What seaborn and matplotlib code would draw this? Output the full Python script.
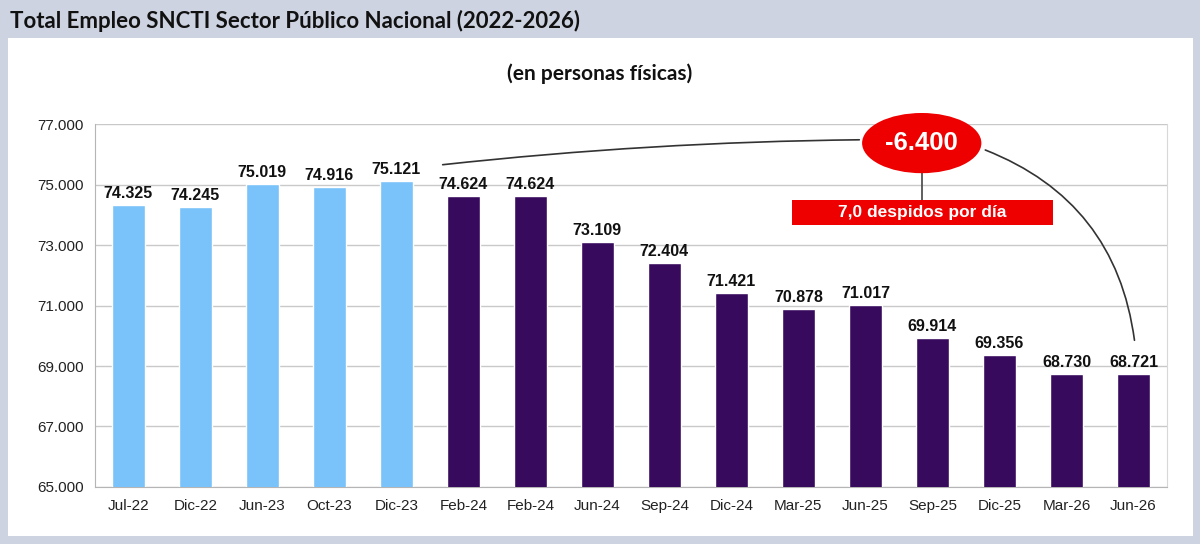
import matplotlib
matplotlib.use("Agg")
import matplotlib.pyplot as plt
from matplotlib.patches import Ellipse, Rectangle, FancyArrowPatch
from matplotlib.ticker import FuncFormatter, FixedLocator
import seaborn as sns
import pandas as pd
import numpy as np

# Datos
periodos = ["Jul-22", "Dic-22", "Jun-23", "Oct-23", "Dic-23", "Feb-24", "Feb-24", "Jun-24",
            "Sep-24", "Dic-24", "Mar-25", "Jun-25", "Sep-25", "Dic-25", "Mar-26", "Jun-26"]
empleo = [74325, 74245, 75019, 74916, 75121, 74624, 74624, 73109,
          72404, 71421, 70878, 71017, 69914, 69356, 68730, 68721]
gestion = ["anterior"] * 5 + ["actual"] * 11
caida_total = "-6.400"
despidos_dia = "7,0 despidos por día"

colores = {"anterior": "#79c2fa", "actual": "#370a5d"}

df = pd.DataFrame({"pos": np.arange(len(empleo)), "empleo": empleo, "gestion": gestion})

sns.set_style("white")
plt.rcParams["font.family"] = ["Liberation Sans", "DejaVu Sans"]

fig = plt.figure(figsize=(12, 5.44), dpi=100)
fig.patch.set_facecolor("#cdd3e1")
fig.patches.append(Rectangle((0.0067, 0.0147), 0.9875, 0.9154, transform=fig.transFigure,
                             facecolor="white", edgecolor="none", zorder=-5))

ax = fig.add_axes([0.079, 0.1048, 0.8935, 0.6672])
ax.set_zorder(2)
ax.patch.set_alpha(0)
sns.barplot(data=df, x="pos", y="empleo", hue="gestion", palette=colores, dodge=False,
            width=0.5, saturation=1, legend=False, ax=ax, zorder=3)

fmt_miles = lambda v, *a: f"{v:,.0f}".replace(",", ".")
for c in ax.containers:
    ax.bar_label(c, fmt=fmt_miles, padding=3, fontsize=11.5, fontweight="bold", color="#111111")

ax.set_ylim(65000, 77000)
ax.set_xlim(-0.5, len(empleo) - 0.5)
ax.set_yticks(np.arange(65000, 77001, 2000))
ax.yaxis.set_major_formatter(FuncFormatter(fmt_miles))
ax.set_xticks(df["pos"])
ax.set_xticklabels(periodos)
ax.xaxis.set_minor_locator(FixedLocator(np.arange(-0.5, len(empleo), 1)))
ax.tick_params(axis="x", which="major", length=0, pad=9, labelsize=11, colors="#222222")
ax.tick_params(axis="x", which="minor", length=6, width=1, color="#b5b5b5", direction="out")
ax.tick_params(axis="y", length=6, width=1, color="#b5b5b5", labelsize=11, colors="#222222", pad=2)
ax.set_xlabel("")
ax.set_ylabel("")
ax.grid(axis="y", color="#c9c9c9", lw=1, zorder=0)
ax.set_axisbelow(True)
for s in ["left", "bottom"]:
    ax.spines[s].set_color("#b5b5b5")
ax.spines["right"].set_color("#d8d8d8")
ax.spines["top"].set_visible(False)

# Anotacion: caida total
ex, ey = 11.84, 76370
ax.add_patch(Ellipse((ex, ey), 1.78, 1990, facecolor="#ee0000", edgecolor="none", zorder=6, clip_on=False))
ax.text(ex, ey, caida_total, color="white", fontsize=18.5, fontweight="bold",
        ha="center", va="center", zorder=7)
ax.add_patch(Rectangle((9.9, 73660), 3.9, 830, facecolor="#ee0000", edgecolor="none", zorder=6))
ax.text(11.85, 74075, despidos_dia, color="white", fontsize=12.5, fontweight="bold",
        ha="center", va="center", zorder=7)
ax.plot([ex, ex], [ey - 995, 74490], color="#444444", lw=1.2, zorder=5)

ax.add_patch(FancyArrowPatch((4.65, 75645), (10.95, 76480), arrowstyle="-",
                             connectionstyle="arc3,rad=-0.025", color="#333333", lw=1.2, zorder=5))
ax.add_patch(FancyArrowPatch((12.75, 76175), (15.02, 69760), arrowstyle="-",
                             connectionstyle="arc3,rad=-0.3", color="#333333", lw=1.2, zorder=5))

fig.text(0.0085, 0.962, "Total Empleo SNCTI Sector Público Nacional (2022-2026)",
         family="Lato", fontweight="bold", fontsize=16, ha="left", va="center", color="#111111")
fig.text(0.5, 0.864, "(en personas físicas)", family="Lato", fontweight="bold",
         fontsize=15, ha="center", va="center", color="#111111")

fig.savefig("out.png", dpi=100, facecolor=fig.get_facecolor())
